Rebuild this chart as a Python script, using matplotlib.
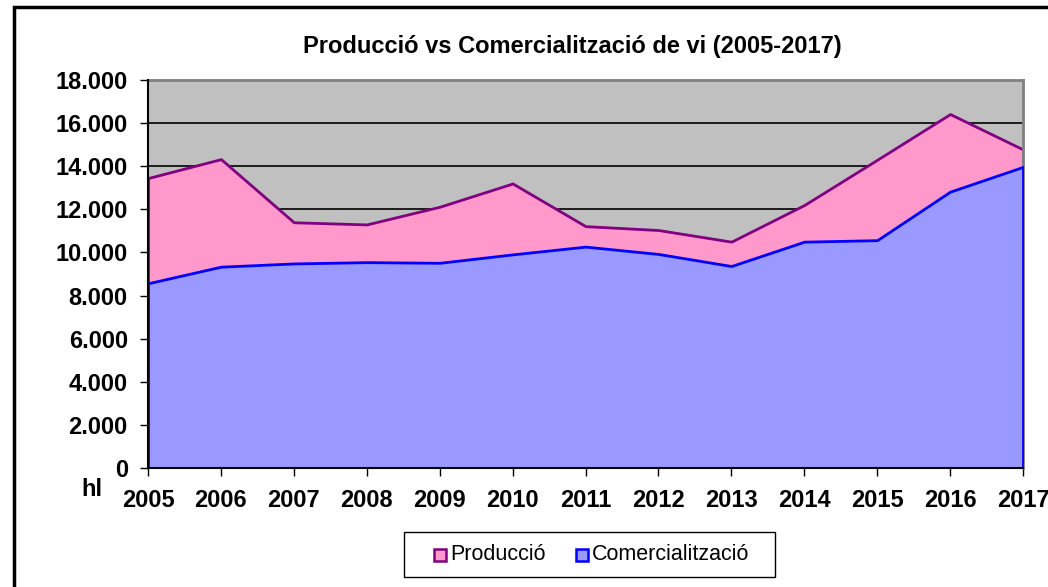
import matplotlib
matplotlib.use("Agg")
import matplotlib.pyplot as plt
from matplotlib.patches import Rectangle
from matplotlib.ticker import FuncFormatter

years = [2005, 2006, 2007, 2008, 2009, 2010, 2011, 2012, 2013, 2014, 2015, 2016, 2017]
produccio = [13450, 14330, 11400, 11300, 12120, 13200, 11220, 11040, 10500, 12200, 14300, 16420, 14780]
comercialitzacio = [8570, 9340, 9490, 9550, 9520, 9910, 10270, 9930, 9370, 10500, 10570, 12820, 13970]
yticks = [0, 2000, 4000, 6000, 8000, 10000, 12000, 14000, 16000, 18000]
series_names = ["Producció", "Comercialització"]
title = "Producció vs Comercialització de vi (2005-2017)"

plt.rcParams['font.family'] = ['Liberation Sans', 'DejaVu Sans']

W, H = 1048, 587
fig = plt.figure(figsize=(W / 100, H / 100), dpi=100)

def fx(px):
    return px / W

def fy(py):
    return 1 - py / H

# outer chart border
fig.patches.append(Rectangle((fx(14), -0.1), 1.2, fy(7) + 0.1, transform=fig.transFigure,
                             fill=False, edgecolor='black', linewidth=2.5, zorder=0))

ax = fig.add_axes([fx(148), fy(468), (1023 - 148) / W, (468 - 80) / H])
ax.set_facecolor('#C0C0C0')

prod_face, prod_edge = '#FF99CC', '#800080'
com_face, com_edge = '#9999FF', '#0000FF'
ax.fill_between(years, 0, produccio, facecolor=prod_face, edgecolor=prod_edge, linewidth=2, zorder=2)
ax.fill_between(years, 0, comercialitzacio, facecolor=com_face, edgecolor=com_edge, linewidth=2, zorder=3)

ax.set_xlim(years[0], years[-1])
ax.set_ylim(0, 18000)
ax.set_yticks(yticks)
ax.set_xticks(years)
ax.yaxis.set_major_formatter(FuncFormatter(lambda v, p: f"{int(v):,}".replace(",", ".")))
ax.grid(axis='y', color='black', linewidth=1.2, zorder=1)
ax.set_axisbelow(True)

for side in ['top', 'right']:
    ax.spines[side].set_color('#808080')
    ax.spines[side].set_linewidth(2)
for side in ['left', 'bottom']:
    ax.spines[side].set_color('black')
    ax.spines[side].set_linewidth(1.5)
    ax.spines[side].set_zorder(5)

ax.tick_params(axis='both', direction='out', length=6, width=1, colors='black')
ax.tick_params(axis='y', pad=8.5)
ax.tick_params(axis='x', pad=9)
for lbl in ax.get_xticklabels() + ax.get_yticklabels():
    lbl.set_fontsize(17)
    lbl.set_fontweight('bold')

fig.text(fx(92), fy(489), "hl", fontsize=17, fontweight='bold', ha='center', va='center')
fig.text(fx(572), fy(46), title, fontsize=17, fontweight='bold', ha='center', va='center')

# legend (drawn as a box with square keys)
fig.patches.append(Rectangle((fx(404), fy(577)), (775 - 404) / W, (577 - 532) / H,
                             transform=fig.transFigure, facecolor='white', edgecolor='black',
                             linewidth=1, zorder=3))
legend_items = [(series_names[0], prod_face, prod_edge, 434, 450),
                (series_names[1], com_face, com_edge, 576, 592)]
for name, face, edge, hx, tx in legend_items:
    fig.patches.append(Rectangle((fx(hx), fy(561)), 12 / W, 12 / H, transform=fig.transFigure,
                                 facecolor=face, edgecolor=edge, linewidth=1.8, zorder=4))
    fig.text(fx(tx), fy(555), name, fontsize=15.5, ha='left', va='center', zorder=5)

fig.savefig("out.png", dpi=100, facecolor='white')
